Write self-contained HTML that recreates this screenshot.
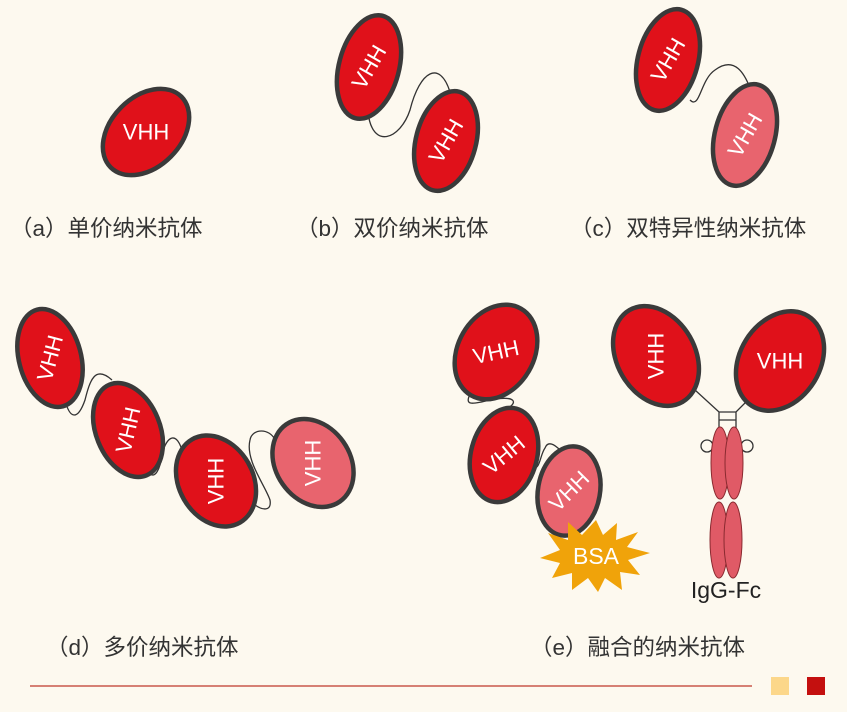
<!DOCTYPE html>
<html><head><meta charset="utf-8"><style>
html,body{margin:0;padding:0;background:#fdf9ef;}
svg{display:block}
.v{font-family:"Liberation Sans",sans-serif;fill:#fff;font-size:22px;text-anchor:middle;dominant-baseline:central}
.r{fill:#e0111a;stroke:#3a3a3a;stroke-width:4.5}
.p{fill:#e8646e;stroke:#3a3a3a;stroke-width:4.5}
.l{fill:none;stroke:#333;stroke-width:1.3}
.lab{font-family:"Liberation Sans","Noto Sans CJK SC",sans-serif;font-size:22.5px;fill:#333}
</style></head><body>
<svg width="847" height="712" viewBox="0 0 847 712">
<rect width="847" height="712" fill="#fdf9ef"/>
<!-- a -->
<g transform="translate(146,132) rotate(-45)"><ellipse class="r" rx="50" ry="35"/><text class="v" transform="rotate(45)">VHH</text></g>
<!-- b -->
<path class="l" d="M368,112 C372,150 400,140 410,110 C420,70 440,60 450,92"/>
<g transform="translate(369,67) rotate(15)"><ellipse class="r" rx="30" ry="53"/><text class="v" transform="rotate(-75)">VHH</text></g>
<g transform="translate(446,141) rotate(15)"><ellipse class="r" rx="30" ry="51"/><text class="v" transform="rotate(-75)">VHH</text></g>
<!-- c -->
<path class="l" d="M690,100 C700,110 700,80 715,70 C735,55 745,75 750,88"/>
<g transform="translate(668,60) rotate(15)"><ellipse class="r" rx="30" ry="52"/><text class="v" transform="rotate(-75)">VHH</text></g>
<g transform="translate(745,135) rotate(15)"><ellipse class="p" rx="30" ry="52"/><text class="v" transform="rotate(-75)">VHH</text></g>
<!-- d -->
<path class="l" d="M65,400 C70,420 78,420 85,400 C90,380 95,365 112,380"/>
<path class="l" d="M150,474 C155,478 160,470 162,455 C165,440 175,428 182,450"/>
<path class="l" d="M255,505 C262,510 272,512 270,500 C265,485 245,460 250,440 C252,428 270,428 275,440"/>
<g transform="translate(50,358) rotate(-15)"><ellipse class="r" rx="31" ry="50"/><text class="v" transform="rotate(-60)">VHH</text></g>
<g transform="translate(128,430) rotate(-22)"><ellipse class="r" rx="32" ry="49"/><text class="v" transform="rotate(-55)">VHH</text></g>
<g transform="translate(216,481) rotate(-30)"><ellipse class="r" rx="37" ry="48"/><text class="v" transform="rotate(-60)">VHH</text></g>
<g transform="translate(313,463) rotate(-35)"><ellipse class="p" rx="37" ry="47"/><text class="v" transform="rotate(-55)">VHH</text></g>
<!-- e -->
<path class="l" d="M470,394 C465,405 470,405 490,400 C515,395 520,402 505,410"/>
<path class="l" d="M533,468 C540,470 540,455 545,448 C548,440 555,445 560,450"/>
<g transform="translate(496,352) rotate(30)"><ellipse class="r" rx="38" ry="50"/><text class="v" transform="rotate(-42)">VHH</text></g>
<g transform="translate(504,455) rotate(15)"><ellipse class="r" rx="33" ry="48"/><text class="v" transform="rotate(-55)">VHH</text></g>
<g transform="translate(569,491) rotate(10)"><ellipse class="p" rx="31" ry="45"/><text class="v" transform="rotate(-55)">VHH</text></g>
<polygon fill="#f0a30a" points="596,520 603,535 617,523 616,540 638,532 627,547 650,553 628,560 640,575 620,572 622,590 605,578 598,592 588,578 572,590 572,573 552,578 560,563 540,558 560,550 548,533 568,540 568,522 582,535" />
<text class="v" x="596" y="556" style="font-size:23px">BSA</text>
<!-- IgG -->
<path class="l" d="M695,390 L719,412 L736,412 L758,390 M719,412 L719,430 M736,412 L736,430 M719,420 L736,420"/>
<circle cx="707" cy="446" r="6" class="l"/><circle cx="747" cy="446" r="6" class="l"/>
<g fill="#e05a66" stroke="#8a2a30" stroke-width="1">
<ellipse cx="720" cy="463" rx="9" ry="36"/><ellipse cx="734" cy="463" rx="9" ry="36"/>
<ellipse cx="719" cy="540" rx="9" ry="38"/><ellipse cx="733" cy="540" rx="9" ry="38"/>
</g>
<g transform="translate(656,356) rotate(-30)"><ellipse class="r" rx="39" ry="53"/><text class="v" transform="rotate(-60)">VHH</text></g>
<g transform="translate(780,361) rotate(32)"><ellipse class="r" rx="40" ry="53"/><text class="v" transform="rotate(-32)">VHH</text></g>
<text x="726" y="598" class="lab" text-anchor="middle" style="font-size:23px;fill:#222">IgG-Fc</text>
<!-- labels -->
<text class="lab" x="10" y="236">（a）单价纳米抗体</text>
<text class="lab" x="296" y="236">（b）双价纳米抗体</text>
<text class="lab" x="570" y="236">（c）双特异性纳米抗体</text>
<text class="lab" x="46" y="655">（d）多价纳米抗体</text>
<text class="lab" x="530" y="655">（e）融合的纳米抗体</text>
<line x1="30" y1="686" x2="752" y2="686" stroke="#c0392b" stroke-width="1.2"/>
<rect x="771" y="677" width="18" height="18" fill="#fcd78a"/>
<rect x="807" y="677" width="18" height="18" fill="#c4100f"/>
</svg>
</body></html>
